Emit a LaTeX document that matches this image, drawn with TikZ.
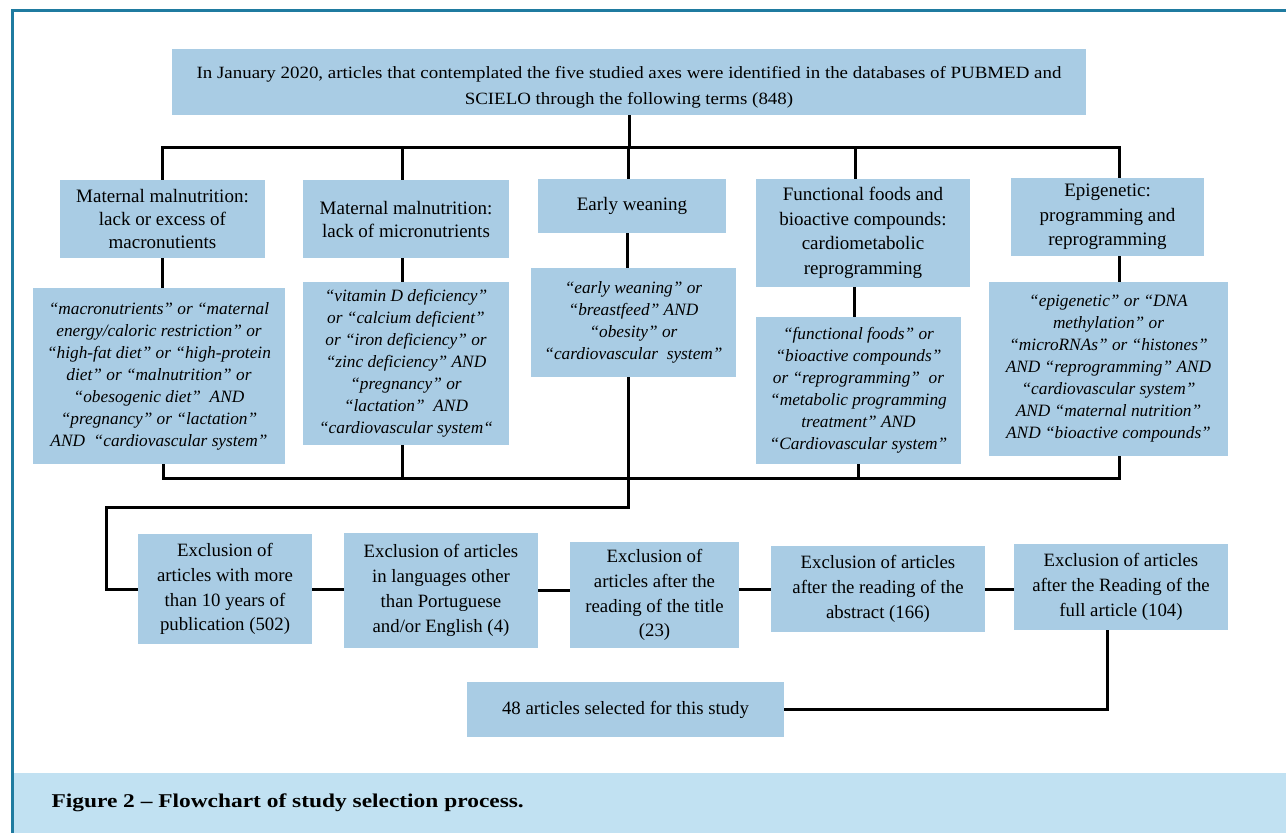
\documentclass[tikz,border=0pt]{standalone}
\usepackage{fontspec}
\setmainfont{Liberation Serif}
\newfontfamily\widefont[FakeStretch=1.1]{Liberation Serif}
\newfontfamily\capfont[FakeStretch=1.2]{Liberation Serif}
\definecolor{boxblue}{RGB}{169,204,228}
\definecolor{capblue}{RGB}{193,225,242}
\definecolor{frameteal}{RGB}{31,123,160}

\begin{document}
\begin{tikzpicture}[x=1pt,y=-1pt,
    box/.style={fill=boxblue,align=center,inner sep=0pt,font=\fontsize{19}{23}\selectfont},
    loose/.style={box,font=\fontsize{19}{24.5}\selectfont},
    terms/.style={box,font=\fontsize{17.3}{22}\selectfont\itshape},
    excl/.style={box,font=\fontsize{18.8}{24.8}\selectfont},
    sz/.style 2 args={minimum width=#1pt,minimum height=#2pt},
    link/.style={line width=3pt}]
      \useasboundingbox (0,0) rectangle (1286,833);
      \fill[capblue] (12,773) rectangle (1286,833);
      \draw[frameteal,line width=3pt] (12,833) -- (12,10) -- (1286,10);
      \node[anchor=west,font=\capfont\bfseries\fontsize{19.5}{22}\selectfont] (cap) at (48,803)
        {Figure 2 – Flowchart of study selection process.};

      \node[box,sz={914}{66},font=\widefont\fontsize{17.2}{26}\selectfont] (top) at (629,82)
        {\rule{0pt}{22pt}In January 2020, articles that contemplated the five studied axes were identified in the databases of PUBMED and\\
         SCIELO through the following terms (848)};

      \node[box,sz={205}{78}] (c1) at (162.5,219) {Maternal malnutrition:\\ lack or excess of\\ macronutients};
      \node[box,sz={206}{78}] (c2) at (406,219) {Maternal malnutrition:\\ lack of micronutrients};
      \node[box,sz={188}{54}] (c3) at (632,206) {Early weaning};
      \node[loose,sz={214}{108}] (c4) at (863,233) {Functional foods and\\ bioactive compounds:\\ cardiometabolic\\ reprogramming};
      \node[loose,sz={193}{78}] (c5) at (1107.5,217) {Epigenetic:\\ programming and\\ reprogramming};

      \node[terms,sz={252}{176}] (t1) at (159,376)
        {“macronutrients” or “maternal\\ energy/caloric restriction” or\\ “high-fat diet” or “high-protein\\
         diet” or “malnutrition” or\\ “obesogenic diet”\ \ AND\\ “pregnancy” or “lactation”\\ AND\ \ “cardiovascular system”};
      \node[terms,sz={206}{163}] (t2) at (406,363.5)
        {“vitamin D deficiency”\\ or “calcium deficient”\\ or “iron deficiency” or\\ “zinc deficiency” AND\\
         “pregnancy” or\\ “lactation”\ \ AND\\ “cardiovascular system“};
      \node[terms,sz={205}{109}] (t3) at (633.5,322.5)
        {“early weaning” or\\ “breastfeed” AND\\ “obesity” or\\ “cardiovascular\ \ system”};
      \node[terms,sz={205}{147}] (t4) at (858.5,390.5)
        {“functional foods” or\\ “bioactive compounds”\\ or “reprogramming”\ \ or\\ “metabolic programming\\
         treatment” AND\\ “Cardiovascular system”};
      \node[terms,sz={239}{174}] (t5) at (1108.5,369)
        {“epigenetic” or “DNA\\ methylation” or\\ “microRNAs” or “histones”\\ AND “reprogramming” AND\\
         “cardiovascular system”\\ AND “maternal nutrition”\\ AND “bioactive compounds”};

      \node[excl,sz={174}{110}] (e1) at (225,589) {Exclusion of\\ articles with more\\ than 10 years of\\ publication (502)};
      \node[excl,sz={194}{115}] (e2) at (441,590.5) {Exclusion of articles\\ in languages other\\ than Portuguese\\ and/or English (4)};
      \node[excl,sz={169}{106}] (e3) at (654.5,595) {Exclusion of\\ articles after the\\ reading of the title\\ (23)};
      \node[excl,sz={214}{86}] (e4) at (878,589) {Exclusion of articles\\ after the reading of the\\ abstract (166)};
      \node[excl,sz={214}{86}] (e5) at (1121,587) {Exclusion of articles\\ after the Reading of the\\ full article (104)};
      \node[excl,sz={317}{55}] (fin) at (625.5,709.5) {48 articles selected for this study};

      \coordinate (hub) at (629,147);
      \draw[link] (top.south) -- (top.south |- hub);
      \draw[link] (c1.north) |- (hub) -| ([xshift=11.5pt]c5.north);
      \foreach \n/\dx in {c2/-4,c3/-4,c4/-8}
      \draw[link] ([xshift=\dx pt]\n.north) -- ([xshift=\dx pt]\n.north |- hub);
      \foreach \n/\dx in {1/0,2/-4,3/-5,4/-9,5/11.5}
      \draw[link] ([xshift=\dx pt]c\n.south) -- ([xshift=\dx pt]c\n.south |- t\n.north);

      \coordinate (bus) at (628,478);
      \draw[link] ([xshift=4pt]t1.south) |- (bus) -| ([xshift=10.5pt]t5.south);
      \foreach \n/\dx in {2/-4,4/0}
      \draw[link] ([xshift=\dx pt]t\n.south) -- ([xshift=\dx pt]t\n.south |- bus);
      \coordinate (turn) at (106,507);
      \draw[link] ([xshift=-5.5pt]t3.south) |- (turn) |- (e1.west);

      \draw[link] (e1.east) -- (e1.east -| e2.west);
      \draw[link] (e2.east) -- (e2.east -| e3.west);
      \draw[link] (e4.west) -- (e4.west -| e3.east);
      \draw[link] (e4.east) -- (e4.east -| e5.west);
      \draw[link] ([xshift=-14pt]e5.south) |- (fin.east);
    \end{tikzpicture}
\end{document}
